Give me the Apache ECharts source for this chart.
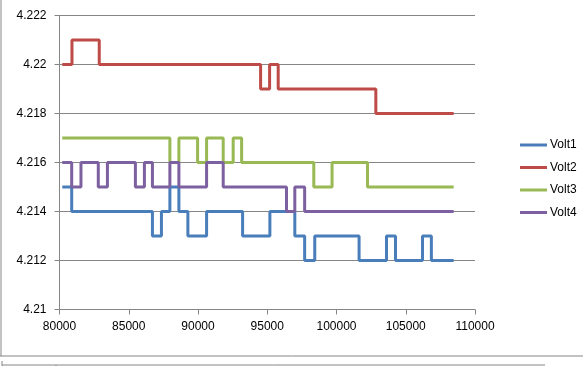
<!DOCTYPE html>
<html><head><meta charset="utf-8">
<script src="https://cdn.jsdelivr.net/npm/echarts@6/dist/echarts.min.js"></script>
<style>html,body{margin:0;padding:0;background:#fff}#c{width:583px;height:366px}</style>
</head><body><div id="c"></div>
<script>
const seriesNames = ['Volt1','Volt2','Volt3','Volt4'];
const xTicks = [80000,85000,90000,95000,100000,105000,110000];
const yTicks = [4.21,4.212,4.214,4.216,4.218,4.22,4.222];
// [time, value] step points (value holds until next time)
const volt1 = [[80200,4.215],[80880,4.214],[86710,4.213],[87360,4.214],[87970,4.215],[88620,4.214],[89270,4.213],[90620,4.214],[93220,4.213],[95190,4.214],[96990,4.213],[97700,4.212],[98430,4.213],[101630,4.212],[103610,4.213],[104260,4.212],[106210,4.213],[106850,4.212],[108460,4.212]];
const volt2 = [[80200,4.22],[80900,4.221],[82870,4.22],[94520,4.219],[95170,4.22],[95790,4.219],[102840,4.218],[108460,4.218]];
const volt3 = [[80200,4.217],[87970,4.216],[88620,4.217],[89970,4.216],[90620,4.217],[91820,4.216],[92540,4.217],[93150,4.216],[98360,4.215],[99680,4.216],[102240,4.215],[108460,4.215]];
const volt4 = [[80200,4.216],[80880,4.215],[81550,4.216],[82800,4.215],[83460,4.216],[85480,4.215],[86130,4.216],[86710,4.215],[87970,4.216],[88620,4.215],[90620,4.216],[91820,4.215],[96390,4.214],[96990,4.215],[97700,4.214],[108460,4.214]];
const colors = ['#4A7EBB','#BE4B48','#98B954','#7D60A0'];
const allData = [volt1, volt2, volt3, volt4];

const chart = echarts.init(document.getElementById('c'), null, {renderer:'canvas'});
const font = 'Liberation Sans';
chart.setOption({
  animation:false,
  textStyle:{fontFamily:font},
  grid:{left:59.5,right:108,top:15.5,bottom:56.5,containLabel:false},
  legend:{
    orient:'vertical', left:515, top:134, itemWidth:27, itemHeight:3, itemGap:10.5,
    icon:'rect', textStyle:{fontFamily:font,fontSize:12,color:'#000',padding:[0,0,0,-2]},
    data:seriesNames
  },
  xAxis:{
    type:'value', min:xTicks[0], max:xTicks[xTicks.length-1], interval:5000,
    axisLine:{lineStyle:{color:'#868686',width:1}},
    axisTick:{show:true,length:5,lineStyle:{color:'#868686'}},
    splitLine:{show:false},
    axisLabel:{color:'#000',fontSize:12,margin:11,fontFamily:font,formatter:v=>String(v)}
  },
  yAxis:{
    type:'value', min:yTicks[0], max:yTicks[yTicks.length-1], interval:0.002,
    axisLine:{show:true,lineStyle:{color:'#868686',width:1}},
    axisTick:{show:true,length:5,inside:false,lineStyle:{color:'#868686'}},
    splitLine:{show:true,lineStyle:{color:'#868686',width:1}},
    axisLabel:{color:'#000',fontSize:12,margin:13,fontFamily:font,
      formatter:v=>String(parseFloat(v.toFixed(3)))}
  },
  series: seriesNames.map((n,i)=>({
    name:n, type:'line', step:'end', data:allData[i], symbol:'none',
    lineStyle:{color:colors[i],width:3}, itemStyle:{color:colors[i]}
  })),
  graphic:[
    {type:'line',shape:{x1:1,y1:0,x2:1,y2:356},style:{stroke:'#868686',lineWidth:1}},
    {type:'line',shape:{x1:0,y1:356,x2:583,y2:356},style:{stroke:'#868686',lineWidth:1}},
    {type:'line',shape:{x1:2,y1:365,x2:545,y2:365},style:{stroke:'#868686',lineWidth:1}},
    {type:'line',shape:{x1:2,y1:361,x2:2,y2:366},style:{stroke:'#868686',lineWidth:1}},
    {type:'line',shape:{x1:56,y1:365,x2:56,y2:366},style:{stroke:'#868686',lineWidth:1}}
  ]
});
</script></body></html>
